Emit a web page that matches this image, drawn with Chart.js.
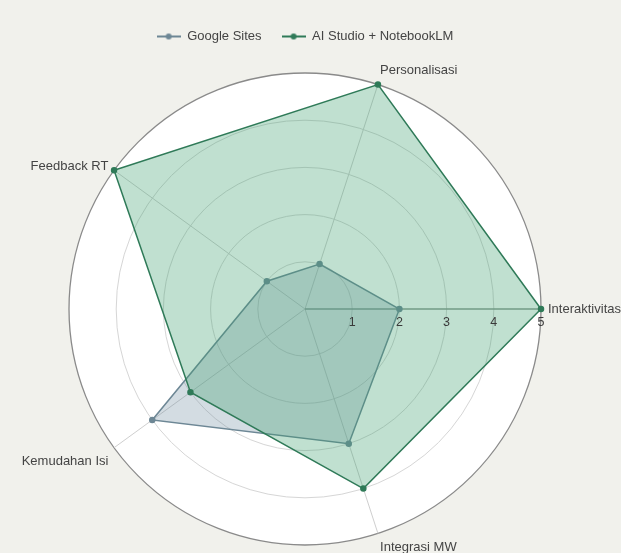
<!DOCTYPE html>
<html>
<head>
<meta charset="utf-8">
<script src="https://cdn.jsdelivr.net/npm/chart.js@4"></script>
<style>
  html, body { margin: 0; padding: 0; background: #f1f1ec; overflow: hidden; }
  #wrap { width: 621px; height: 600px; position: relative; }
</style>
</head>
<body>
<div id="wrap"><canvas id="chart"></canvas></div>
<script>
// axes go clockwise from the right
const labels = ["Interaktivitas", "Integrasi MW", "Kemudahan Isi", "Feedback RT", "Personalisasi"];
const googleSites = [2, 3, 4, 1, 1];
const aiStudio = [5, 4, 3, 5, 5];
const tickValues = [1, 2, 3, 4, 5];

const grayLine = "#6d8795";
const greenLine = "#2f7a58";

// legend marker: a line with a dot in the middle
function marker(color) {
  const c = document.createElement("canvas");
  c.width = 24; c.height = 8;
  const g = c.getContext("2d");
  g.strokeStyle = color; g.lineWidth = 2;
  g.beginPath(); g.moveTo(0, 4); g.lineTo(24, 4); g.stroke();
  g.fillStyle = color;
  g.beginPath(); g.arc(12, 4, 3, 0, Math.PI * 2); g.fill();
  return c;
}

const decor = {
  id: "decor",
  beforeDatasetsDraw(chart) {
    const r = chart.scales.r;
    const ctx = chart.ctx;
    const end = r.getPointPositionForValue(0, 5);
    ctx.save();
    ctx.strokeStyle = "rgba(90,115,100,0.6)";
    ctx.lineWidth = 1.5;
    ctx.beginPath();
    ctx.moveTo(r.xCenter, r.yCenter);
    ctx.lineTo(end.x, end.y);
    ctx.stroke();
    ctx.restore();
  },
  afterDatasetsDraw(chart) {
    const r = chart.scales.r;
    const ctx = chart.ctx;
    ctx.save();
    ctx.fillStyle = "#3a3a3a";
    ctx.textBaseline = "middle";
    ctx.textAlign = "center";
    ctx.font = "12.5px Arial";
    tickValues.forEach(v => {
      const p = r.getPointPositionForValue(0, v);
      ctx.fillText(String(v), p.x, p.y + 14);
    });
    ctx.fillStyle = "#444";
    ctx.font = "13px Arial";
    const dist = r.drawingArea + 7;
    labels.forEach((lab, i) => {
      const p = r.getPointPosition(i, dist);
      const dx = (p.x - r.xCenter) / dist;
      const dy = (p.y - r.yCenter) / dist;
      ctx.textAlign = Math.abs(dx) < 0.1 ? "center" : (dx > 0 ? "left" : "right");
      const y = p.y + dy * 8 + (dx < -0.3 ? 5 : 0);
      ctx.fillText(lab, p.x, y);
    });
    ctx.restore();
  }
};

new Chart(document.getElementById("chart"), {
  type: "radar",
  data: {
    labels: labels,
    datasets: [
      {
        label: "Google Sites",
        data: googleSites,
        order: 1,
        borderColor: grayLine,
        backgroundColor: "rgba(110,140,160,0.3)",
        pointBackgroundColor: grayLine,
        pointBorderColor: grayLine,
        borderWidth: 1.5,
        pointRadius: 2.5
      },
      {
        label: "AI Studio + NotebookLM",
        data: aiStudio,
        order: 0,
        borderColor: greenLine,
        backgroundColor: "rgba(60,160,110,0.32)",
        pointBackgroundColor: greenLine,
        pointBorderColor: greenLine,
        borderWidth: 1.5,
        pointRadius: 2.5
      }
    ]
  },
  options: {
    responsive: true,
    maintainAspectRatio: false,
    animation: false,
    layout: { padding: { left: 69, right: 80, top: 10, bottom: 34 } },
    plugins: {
      legend: {
        position: "top",
        labels: {
          usePointStyle: true,
          pointStyleWidth: 24,
          padding: 20,
          color: "#444",
          font: { family: "Arial", size: 13 },
          generateLabels(chart) {
            return chart.data.datasets.map((ds, i) => ({
              text: ds.label,
              pointStyle: marker(ds.borderColor),
              fillStyle: ds.borderColor,
              strokeStyle: ds.borderColor,
              lineWidth: 0,
              fontColor: "#444",
              datasetIndex: i
            }));
          }
        }
      },
      tooltip: { enabled: false }
    },
    scales: {
      r: {
        min: 0,
        max: 5,
        startAngle: 90,
        backgroundColor: "#ffffff",
        ticks: { display: false, stepSize: 1 },
        pointLabels: { display: false },
        grid: {
          circular: true,
          color: c => c.tick && c.tick.value === 5 ? "#8a8a8a" : "#d6d6d6",
          lineWidth: c => c.tick && c.tick.value === 5 ? 1.3 : 1
        },
        angleLines: { color: "#cfcfcf" }
      }
    }
  },
  plugins: [decor]
});
</script>
</body>
</html>
